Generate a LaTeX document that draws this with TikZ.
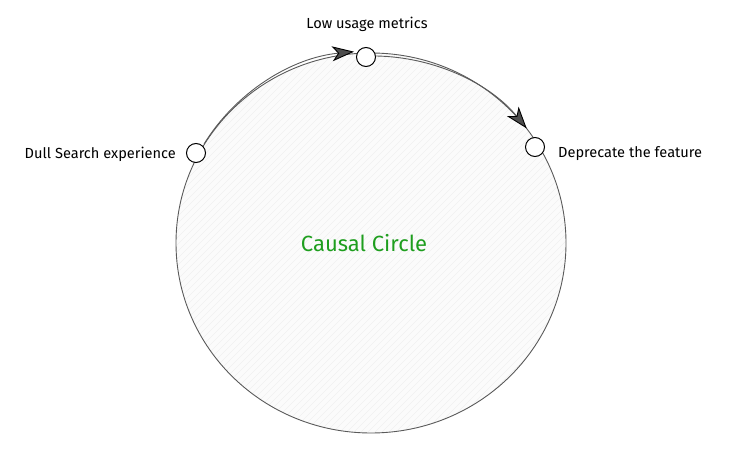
\documentclass[tikz,border=0pt]{standalone}
\usepackage{fontspec}
\setmainfont{Fira Sans}
\usetikzlibrary{arrows.meta}
\definecolor{strokegray}{HTML}{5A5A5A}
\definecolor{causalgreen}{HTML}{1E9E1E}
\tikzset{
  ring/.style={draw=strokegray, line width=0.9pt},
  dot/.style={circle, draw=black, line width=1pt, fill=white, minimum size=19pt, inner sep=0pt},
  lbl/.style={font=\fontsize{14.6}{17}\selectfont, inner sep=0pt},
  flow/.style={draw=strokegray, line width=0.9pt, -{Stealth[length=22pt,width=15pt,inset=6pt,fill=black!70,color=black]}},
}
\begin{document}
\begin{tikzpicture}[x=1pt,y=1pt]
\useasboundingbox (0,0) rectangle (731,450);
% main ellipse with hatching
\begin{scope}
  \clip (371,207) ellipse [x radius=195, y radius=190];
  \fill[gray!3] (150,0) rectangle (600,450);
  \foreach \k in {-500,-493,...,500} {
    \draw[gray!11, line width=0.4pt] (\k+150,0) -- (\k+600,450);
  }
\end{scope}
\draw[ring] (371,207) ellipse [x radius=195, y radius=190];
% nodes
\node[dot] (dull) at (196,297) {};
\node[dot] (low) at (366,393) {};
\node[dot] (dep) at (535,303) {};
\node[lbl, anchor=east] (dullt) at (176,296) {Dull Search experience};
\node[lbl, anchor=south] (lowt) at (367,418) {Low usage metrics};
\node[lbl, anchor=west] (dept) at (558,296) {Deprecate the feature};
\node[font=\fontsize{22}{26}\selectfont, text=causalgreen] (title) at (364,207) {Causal Circle};
% connectors along the ring
\draw[flow] (dull.north east) ++(1,2) arc [start angle=149, end angle=95.5, x radius=197, y radius=192];
\draw[flow] (low.east) ++(0,1) arc [start angle=89, end angle=38.5, x radius=197, y radius=192];
\end{tikzpicture}
\end{document}
